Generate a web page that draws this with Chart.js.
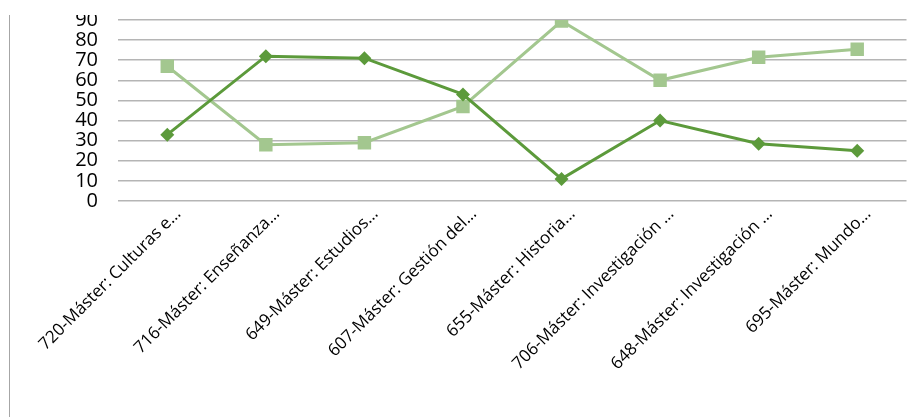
<!DOCTYPE html>
<html>
<head>
<meta charset="utf-8">
<script src="https://cdn.jsdelivr.net/npm/chart.js@4"></script>
<style>
  html, body { margin: 0; padding: 0; background: #fff; }
  #frame {
    position: absolute; left: 9px; top: 15px; width: 907px; height: 402px;
    border-left: 1px solid #a6a6a6; overflow: hidden;
  }
  #chart { position: absolute; left: -10px; top: -15px; }
</style>
</head>
<body>
<div id="frame"><canvas id="chart" width="916" height="417"></canvas></div>
<script>
  var categories = [
    '720-Máster: Culturas e…',
    '716-Máster: Enseñanza…',
    '649-Máster: Estudios…',
    '607-Máster: Gestión del…',
    '655-Máster: Historia…',
    '706-Máster: Investigación …',
    '648-Máster: Investigación …',
    '695-Máster: Mundo…'
  ];
  var seriesDark = [33, 72, 71, 53, 11, 40, 28.5, 25];
  var seriesLight = [67, 28, 29, 47, 89.5, 60, 71.5, 75.5];
  var yMin = 0, yMax = 90, yStep = 10;

  var darkGreen = '#5c9a3b';
  var lightGreen = '#a3c78f';

  var ctx = document.getElementById('chart');
  var myChart = new Chart(ctx, {
    type: 'line',
    data: {
      labels: categories,
      datasets: [{
        label: 'Serie 1',
        data: seriesDark,
        borderColor: darkGreen,
        backgroundColor: darkGreen,
        borderWidth: 3,
        pointStyle: 'rectRot',
        pointRadius: 7,
        pointHoverRadius: 7,
        pointBorderWidth: 0,
        tension: 0
      }, {
        label: 'Serie 2',
        data: seriesLight,
        borderColor: lightGreen,
        backgroundColor: lightGreen,
        borderWidth: 3,
        pointStyle: 'rect',
        pointRadius: 9.5,
        pointHoverRadius: 9.5,
        pointBorderWidth: 0,
        tension: 0
      }]
    },
    options: {
      responsive: false,
      animation: false,
      layout: { padding: { top: 20, right: 9, bottom: 0, left: 0 } },
      plugins: { legend: { display: false }, tooltip: { enabled: false } },
      scales: {
        x: {
          offset: true,
          grid: { display: false, drawTicks: false },
          border: { display: false },
          ticks: {
            color: '#000',
            font: { family: 'Open Sans', size: 17 },
            minRotation: 45,
            maxRotation: 45,
            autoSkip: false,
            padding: 3,
            labelOffset: 11
          },
          afterFit: function (s) {
            s.height = 216;
            s.paddingLeft = 0;
            s.paddingRight = 0;
          }
        },
        y: {
          min: yMin,
          max: yMax,
          grid: { color: '#b5b5b5', lineWidth: 1.5, drawTicks: false },
          border: { display: false },
          ticks: {
            stepSize: yStep,
            autoSkip: false,
            color: '#000',
            font: { family: 'Open Sans', size: 20 },
            padding: 20
          },
          afterFit: function (s) {
            s.width = 118;
            s.paddingTop = 0;
            s.paddingBottom = 0;
          }
        }
      }
    }
  });
</script>
</body>
</html>
